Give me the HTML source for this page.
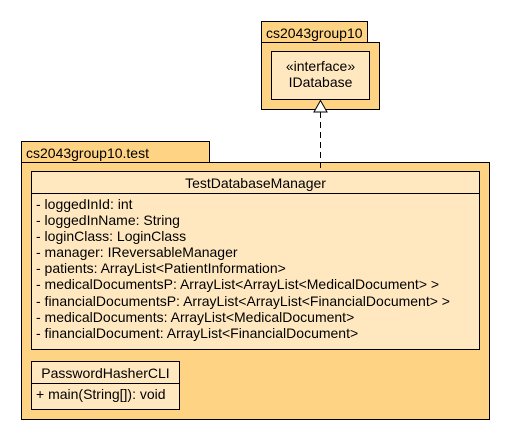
<!DOCTYPE html>
<html><head><style>
body{margin:0;width:510px;height:440px;background:#fff;font-family:"Liberation Sans",sans-serif;font-size:14px;color:#000;}
div{position:absolute;box-sizing:border-box;}
.pk{background:#fed383;border:1px solid #000;}
.cl{background:#ffe8c0;border:1px solid #000;}
.t{position:absolute;white-space:nowrap;}
</style></head><body>
<div class="pk" style="left:261px;top:21px;width:107px;height:22px;"><span class="t" style="left:4px;top:3px;">cs2043group10</span></div>
<div class="pk" style="left:261px;top:42px;width:119px;height:68px;"></div>
<div class="cl" style="left:271px;top:51px;width:99px;height:49px;text-align:center;"><span class="t" style="left:0;right:0;top:6px;">«interface»</span><span class="t" style="left:0;right:0;top:22px;">IDatabase</span></div>
<div class="pk" style="left:21px;top:141px;width:189px;height:22px;"><span class="t" style="left:4px;top:3px;">cs2043group10.test</span></div>
<div class="pk" style="left:21px;top:162px;width:469px;height:258px;"></div>
<div class="cl" style="left:31px;top:171px;width:449px;height:179px;">
<span class="t" style="left:0;right:0;top:3px;text-align:center;">TestDatabaseManager</span>
<div style="left:0;right:0;top:21px;border-top:1px solid #000;"></div>
<div style="left:4px;top:24px;line-height:16.1px;white-space:nowrap;">
- loggedInId: int<br>- loggedInName: String<br>- loginClass: LoginClass<br>- manager: IReversableManager<br>- patients: ArrayList&lt;PatientInformation&gt;<br>- medicalDocumentsP: ArrayList&lt;ArrayList&lt;MedicalDocument&gt; &gt;<br>- financialDocumentsP: ArrayList&lt;ArrayList&lt;FinancialDocument&gt; &gt;<br>- medicalDocuments: ArrayList&lt;MedicalDocument&gt;<br>- financialDocument: ArrayList&lt;FinancialDocument&gt;</div>
</div>
<div class="cl" style="left:31px;top:361px;width:149px;height:49px;">
<span class="t" style="left:0;right:0;top:3px;text-align:center;">PasswordHasherCLI</span>
<div style="left:0;right:0;top:21px;border-top:1px solid #000;"></div>
<span class="t" style="left:4px;top:24px;">+ main(String[]): void</span>
</div>
<svg style="position:absolute;left:0;top:0" width="510" height="440">
<line x1="320.5" y1="112" x2="320.5" y2="171" stroke="#000" stroke-dasharray="6,4"/>
<polygon points="320.5,100.5 314,112 327,112" fill="#fff" stroke="#000"/>
</svg>
</body></html>
